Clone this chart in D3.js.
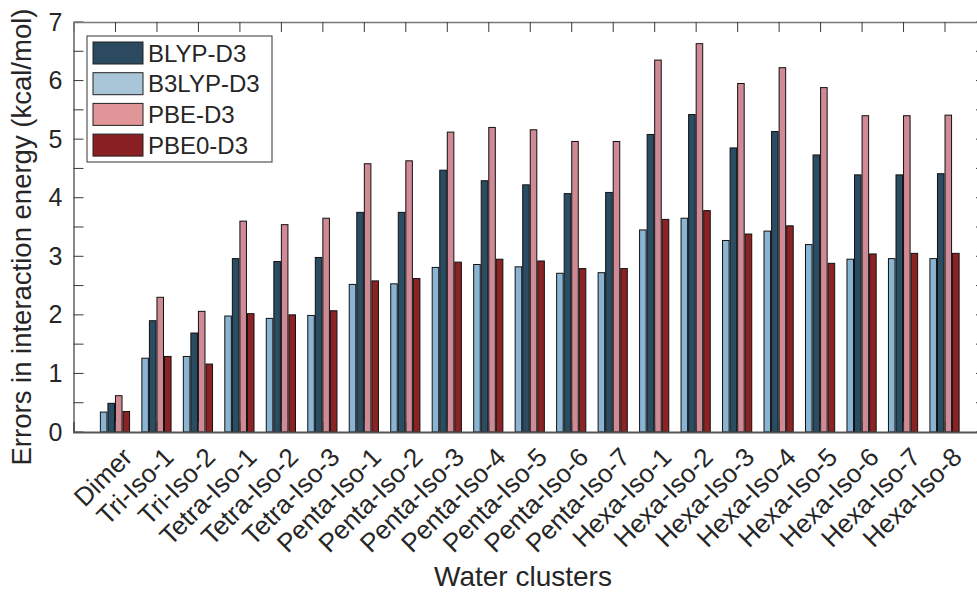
<!DOCTYPE html>
<html lang='en'>
	<head>
		<meta charset='utf-8'>
		<title>Water clusters</title>
		<script type='text/javascript' src='https://cdn.jsdelivr.net/npm/d3@7/dist/d3.min.js'></script>
		<style>
			body { margin: 0; background: white; }
			svg { font-family: 'Liberation Sans', Arial, sans-serif; }
			g.bars rect { stroke: #111; stroke-width: 1px; }
			text { fill: #262626; }
		</style>
	</head>
	<body>
		<script type='text/javascript'>
			var categories = ['Dimer','Tri-Iso-1','Tri-Iso-2','Tetra-Iso-1','Tetra-Iso-2','Tetra-Iso-3',
				'Penta-Iso-1','Penta-Iso-2','Penta-Iso-3','Penta-Iso-4','Penta-Iso-5','Penta-Iso-6','Penta-Iso-7',
				'Hexa-Iso-1','Hexa-Iso-2','Hexa-Iso-3','Hexa-Iso-4','Hexa-Iso-5','Hexa-Iso-6','Hexa-Iso-7','Hexa-Iso-8'];
			var b3lyp = [0.34,1.26,1.29,1.98,1.94,1.99,2.52,2.53,2.81,2.86,2.82,2.71,2.72,3.45,3.65,3.27,3.43,3.20,2.95,2.96,2.96];
			var blyp  = [0.49,1.90,1.69,2.96,2.91,2.98,3.75,3.75,4.47,4.29,4.22,4.07,4.09,5.08,5.42,4.85,5.13,4.73,4.39,4.39,4.41];
			var pbe   = [0.62,2.30,2.06,3.60,3.54,3.65,4.58,4.63,5.12,5.20,5.16,4.96,4.96,6.35,6.63,5.95,6.22,5.88,5.40,5.40,5.41];
			var pbe0  = [0.35,1.29,1.16,2.02,2.00,2.07,2.58,2.62,2.90,2.95,2.92,2.79,2.79,3.63,3.78,3.38,3.52,2.88,3.04,3.05,3.05];
			var yTicks = [0,1,2,3,4,5,6,7];

			// bar order inside each group, and legend order
			var series = [
				{name:'B3LYP-D3', values:b3lyp, fill:'#8ab4d3', legendFill:'#a9c6d9'},
				{name:'BLYP-D3',  values:blyp,  fill:'#2b4d63', legendFill:'#2b4a5f'},
				{name:'PBE-D3',   values:pbe,   fill:'#d08a95', legendFill:'#e09698'},
				{name:'PBE0-D3',  values:pbe0,  fill:'#8b2224', legendFill:'#8a2022'}
			];
			var legendOrder = [1,0,2,3];

			var width = 977, height = 592;
			var plotL = 73.5, plotR = 986, plotT = 22, plotB = 432;

			var x = d3.scaleLinear().domain([0, categories.length + 1]).range([plotL, plotR]);
			var y = d3.scaleLinear().domain([0, 7]).range([plotB, plotT]);
			var slot = 0.182;
			var barW = x(slot) - x(0) - 1;

			var svg = d3.select('body').append('svg')
				.attr('width', width)
				.attr('height', height);

			var bars = svg.append('g').attr('class','bars');
			series.forEach(function(s, j){
				bars.selectAll('rect.s' + j)
					.data(s.values)
					.enter().append('rect')
						.attr('class', 's' + j)
						.attr('x', function(d, i){ return x(i + 1 + (j - 1.5) * slot) - barW / 2; })
						.attr('y', function(d){ return y(d); })
						.attr('width', barW)
						.attr('height', function(d){ return y(0) - y(d); })
						.attr('fill', s.fill);
			});

			var idx = d3.range(1, categories.length + 1);
			var axisColor = '#3a3a3a';

			// box: bottom, left, top (right side lies off canvas)
			var yAxis = d3.axisLeft(y).tickValues(yTicks).tickFormat(d3.format('d')).tickSize(0).tickPadding(11);
			var gy = svg.append('g').attr('transform','translate(' + plotL + ',0)').call(yAxis);
			gy.select('.domain').attr('stroke', axisColor).attr('stroke-width', 1.2);
			gy.selectAll('text').style('font-size','25px').attr('fill','#262626');

			var minor = d3.range(0, 7.01, 0.5);
			svg.append('g').selectAll('line').data(minor).enter().append('line')
				.attr('x1', plotL).attr('x2', plotL + 10)
				.attr('y1', function(d){ return y(d); }).attr('y2', function(d){ return y(d); })
				.attr('stroke', axisColor);
			svg.append('g').selectAll('line').data(minor).enter().append('line')
				.attr('x1', plotR).attr('x2', plotR - 10)
				.attr('y1', function(d){ return y(d); }).attr('y2', function(d){ return y(d); })
				.attr('stroke', axisColor);

			var xTop = d3.axisBottom(x).tickValues(idx).tickSize(10).tickFormat('');
			var gt = svg.append('g').attr('transform','translate(0,' + plotT + ')').call(xTop);
			gt.select('.domain').attr('stroke', '#777').attr('stroke-width', 1.6);
			gt.selectAll('.tick line').attr('stroke', axisColor);

			var xBot = d3.axisTop(x).tickValues(idx).tickSize(10).tickFormat('');
			var gb = svg.append('g').attr('transform','translate(0,' + plotB + ')').call(xBot);
			gb.select('.domain').attr('stroke', '#555').attr('stroke-width', 2);
			gb.selectAll('.tick line').attr('stroke', axisColor);

			svg.append('g').selectAll('text').data(categories).enter().append('text')
				.attr('transform', function(d, i){ return 'translate(' + (x(i + 1) + 6) + ',' + (plotB + 14) + ') rotate(-45)'; })
				.attr('text-anchor','end')
				.attr('dy','0.7em')
				.style('font-size','26px')
				.text(function(d){ return d; });

			svg.append('text')
				.attr('transform','translate(31,237) rotate(-90)')
				.attr('text-anchor','middle')
				.style('font-size','27.5px')
				.text('Errors in interaction energy (kcal/mol)');

			svg.append('text')
				.attr('x', 523).attr('y', 586)
				.attr('text-anchor','middle')
				.style('font-size','28px')
				.text('Water clusters');

			// legend
			var lg = svg.append('g').attr('transform','translate(87,36)');
			lg.append('rect').attr('width', 185).attr('height', 126)
				.attr('fill','white').attr('stroke','#333').attr('stroke-width', 1);
			var rows = lg.selectAll('g.row').data(legendOrder).enter().append('g')
				.attr('transform', function(d, k){ return 'translate(0,' + (17 + k * 30.7) + ')'; });
			rows.append('rect')
				.attr('x', 6).attr('y', -11).attr('width', 50).attr('height', 22)
				.attr('fill', function(d){ return series[d].legendFill; })
				.attr('stroke', '#222');
			rows.append('text')
				.attr('x', 61).attr('dy', '0.36em')
				.style('font-size','24px')
				.text(function(d){ return series[d].name; });
		</script>
	</body>
</html>
